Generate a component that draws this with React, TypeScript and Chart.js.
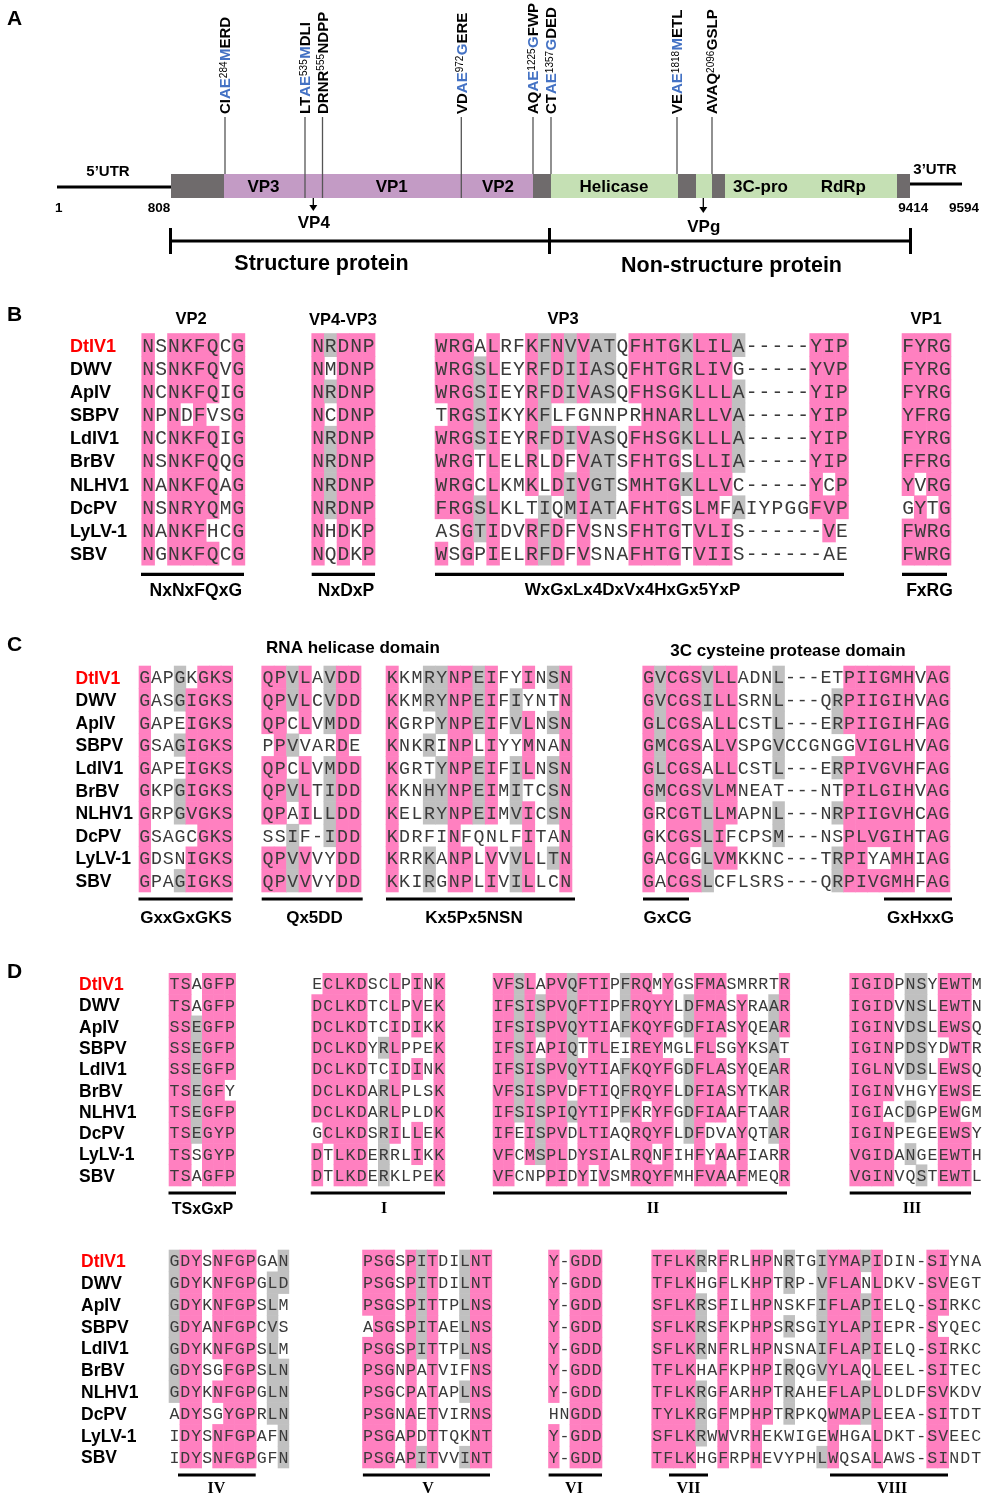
import { useEffect, useRef } from "react";
import { Chart, registerables } from "chart.js";
Chart.register(...registerables);

const CANVAS_W = 982;
const CANVAS_H = 1495;

// ================= DATA =================
const species = ["DtIV1", "DWV", "ApIV", "SBPV", "LdIV1", "BrBV", "NLHV1", "DcPV", "LyLV-1", "SBV"];

// ---- Panel A: genome organisation ----
const utrLabels = ["5\u2019UTR", "3\u2019UTR"];
const genomeNumbers = ["1", "808", "9414", "9594"];
const segmentKinds = ["nc", "sp", "nc", "ns", "nc", "ns", "nc", "ns", "nc"]; // nc = dark box, sp = structural, ns = non-structural
const proteinNames = ["VP3", "VP1", "VP2", "Helicase", "3C-pro", "RdRp"];
// [black prefix, blue, superscript position, blue, black suffix]
const cleavageSites = [
  ["CI", "AE", "284", "M", "ERD"],
  ["LT", "AE", "535", "M", "DLI"],
  ["DRNR", "", "555", "", "NDPP"],
  ["VD", "AE", "972", "G", "ERE"],
  ["AQ", "AE", "1225", "G", "FWP"],
  ["CT", "AE", "1357", "G", "DED"],
  ["VE", "AE", "1818", "M", "ETL"],
  ["AVAQ", "", "2096", "", "GSLP"],
];
const cleavedProducts = ["VP4", "VPg"];
const regionNames = ["Structure protein", "Non-structure protein"];

// ---- Panel B: structural proteins ----
const panelBHeaders = ["VP2", "VP4-VP3", "VP3", "VP1"];
const panelBMotifs = ["NxNxFQxG", "NxDxP", "WxGxLx4DxVx4HxGx5YxP", "FxRG"];
const vp2Seqs = ["NSNKFQCG", "NSNKFQVG", "NCNKFQIG", "NPNDFVSG", "NCNKFQIG", "NSNKFQQG", "NANKFQAG", "NSNRYQMG", "NANKFHCG", "NGNKFQCG"];
const vp2Shade = ["pwppppwp", "pwppppwp", "pwppppwp", "pwpwpwwp", "pwppppwp", "pwppppwp", "pwppppwp", "pwppppwp", "pwpppwwp", "pwppppwp"];
const vp4Seqs = ["NRDNP", "NMDNP", "NRDNP", "NCDNP", "NRDNP", "NRDNP", "NRDNP", "NRDNP", "NHDKP", "NQDKP"];
const vp4Shade = ["pgppp", "pwppp", "pgppp", "pwppp", "pgppp", "pgppp", "pgppp", "pgppp", "pwpwp", "pwpwp"];
const vp3Seqs = [
  "WRGALRFKFNVVATQFHTGKLILA-----YIP",
  "WRGSLEYRFDIIASQFHTGRLIVG-----YVP",
  "WRGSIEYRFDIVASQFHSGKLLLA-----YIP",
  "TRGSIKYKFLFGNNPRHNARLLVA-----YIP",
  "WRGSIEYRFDIVASQFHSGKLLLA-----YIP",
  "WRGTLELRLDFVATSFHTGSLLIA-----YIP",
  "WRGCLKMKLDIVGTSMHTGKLLVC-----YCP",
  "FRGSLKLTIQMIATAFHTGSLMFAIYPGGFVP",
  "ASGTIDVRFDFVSNSFHTGTVLIS------VE",
  "WSGPIELRFDFVSNAFHTGTVIIS------AE",
];
const vp3Shade = [
  "pppwpwwpgpgpggwppppgpppgwwwwwppp",
  "pppgpwwpgpgpggwppppgpppwwwwwwppp",
  "pppgpwwpgpgpggwppppgpppgwwwwwppp",
  "wppgpwwpgwwwwwwwpppgpppgwwwwwppp",
  "pppgpwwpgpgpggwppppgpppgwwwwwppp",
  "pppwpwwpwpwpggwppppwpppgwwwwwppp",
  "pppwpwwpwpgpggwppppgpppwwwwwwpwp",
  "pppgpwwwgwgpggwppppwppwgwwwwwppp",
  "wwpgpwwpgpwpwwwppppwpppwwwwwwwpw",
  "pwpwpwwpgpwpwwwppppwpppwwwwwwwww",
];
const vp1Seqs = ["FYRG", "FYRG", "FYRG", "YFRG", "FYRG", "FFRG", "YVRG", "GYTG", "FWRG", "FWRG"];
const vp1Shade = ["pppp", "pppp", "pppp", "pppp", "pppp", "pppp", "pwpp", "wpwp", "pppp", "pppp"];

// ---- Panel C: helicase and 3C protease ----
const panelCHeaders = ["RNA helicase domain", "3C cysteine protease domain"];
const panelCMotifs = ["GxxGxGKS", "Qx5DD", "Kx5Px5NSN", "GxCG", "GxHxxG"];
const helASeqs = ["GAPGKGKS", "GASGIGKS", "GAPEIGKS", "GSAGIGKS", "GAPEIGKS", "GKPGIGKS", "GRPGVGKS", "GSAGCGKS", "GDSNIGKS", "GPAGIGKS"];
const helAShade = ["pwwgwppp", "pwwgpppp", "pwwwpppp", "pwwgpppp", "pwwwpppp", "pwwgpppp", "pwwgpppp", "pwwwwppp", "pwwwpppp", "pwwgpppp"];
const helBSeqs = ["QPVLAVDD", "QPVLCVDD", "QPCLVMDD", "PPVVARDE", "QPCLVMDD", "QPVLTIDD", "QPAILLDD", "SSIF-IDD", "QPVVVYDD", "QPVVVYDD"];
const helBShade = ["ppgpwgpp", "ppgpwgpp", "ppwpwgpp", "wpgwwwpw", "ppwpwgpp", "ppgpwgpp", "ppwpwgpp", "wwgwwgpp", "ppgpwwpp", "ppgpwwpp"];
const helCSeqs = [
  "KKMRYNPEIFYINSN", "KKMRYNPEIFIYNTN", "KGRPYNPEIFVLNSN", "KNKRINPLIYYMNAN", "KGRTYNPEIFILNSN",
  "KKNHYNPEIMITCSN", "KELRYNPEIMVICSN", "KDRFINFQNLFITAN", "KRRKANPLVVVLLTN", "KKIRGNPLIVILLCN",
];
const helCShade = [
  "pwwggppgpwwpwgp", "pwwggppgpwgwwwp", "pwwwgppgpwgpwgp", "pwwgwppwpwwpwwp", "pwwwgppgpwgpwgp",
  "pwwggppgpwgwwgp", "pwwggppgpwgpwgp", "pwwwwpwwwwwpwwp", "pwwgwppwpwgpwgp", "pwwgwppwpwgpwwp",
];
const proSeqs = [
  "GVCGSVLLADNL---ETPIIGMHVAG", "GVCGSILLSRNL---QRPIIGIHVAG", "GLCGSALLCSTL---ERPIIGIHFAG",
  "GMCGSALVSPGVCCGNGGVIGLHVAG", "GLCGSALLCSTL---ERPIVGVHFAG", "GMCGSVLMNEAT---NTPILGIHVAG",
  "GRCGTLLMAPNL---NRPIIGVHCAG", "GKCGSLIFCPSM---NSPLVGIHTAG", "GACGGLVMKKNC---TRPIYAMHIAG",
  "GACGSLCFLSRS---QRPIVGMHFAG",
];
const proShade = [
  "pgpppgppwwwgwwwwwppppppwpp", "pgpppgppwwwgwwwwgppppppwpp", "pgpppwppwwwgwwwwgppppppwpp",
  "pgpppwppwwwgwwwwwwpppppwpp", "pgpppwppwwwgwwwwgppppppwpp", "pgpppgppwwwwwwwwwppppppwpp",
  "pwpppgppwwwgwwwwgppppppwpp", "pwpppgpwwwwgwwwwwppppppwpp", "pwppwgppwwwwwwwwgppwwppwpp",
  "pwpppgwwwwwwwwwwgppppppwpp",
];

// ---- Panel D: RdRp motifs ----
const panelDMotifs = ["TSxGxP", "I", "II", "III", "IV", "V", "VI", "VII", "VIII"];
const tsSeqs = ["TSAGFP", "TSAGFP", "SSEGFP", "SSEGFP", "SSEGFP", "TSEGFY", "TSEGFP", "TSEGYP", "TSSGYP", "TSAGFP"];
const tsShade = ["ppwppp", "ppwppp", "ppgppp", "ppgppp", "ppgppp", "ppgppw", "ppgppp", "ppgppp", "ppwppp", "ppwppp"];
const m1Seqs = ["ECLKDSCLPINK", "DCLKDTCLPVEK", "DCLKDTCIDIKK", "DCLKDYRLPPEK", "DCLKDTCIDINK", "DCLKDARLPLSK", "DCLKDARLPLDK", "GCLKDSRILLEK", "DTLKDERRLIKK", "DTLKDERKLPEK"];
const m1Shade = ["wppppwwpwpwp", "pppppwwpwpwp", "pppppwwpwpwp", "pppppwgpwwwp", "pppppwwpwpwp", "pppppwgpwwwp", "pppppwgpwwwp", "wppppwgpwpwp", "pwpppwgwwpwp", "pwpppwgwwwwp"];
const m2Seqs = [
  "VFSLAPVQFTIPFRQMYGSFMASMRRTR", "IFSISPVQFTIPFRQYYLDFMASYRAAR", "IFSISPVQYTIAFKQYFGDFIASYQEAR",
  "IFSIAPIQTTLEIREYMGLFLSGYKSAT", "IFSISPVQYTIAFKQYFGDFLASYQEAR", "VFSISPVDFTIQFRQYFLDFIASYTKAR",
  "IFSISPIQYTIPFKRYFGDFIAAFTAAR", "IFEISPVDLTIAQRQYFLDFDVAYQTAR", "VFCMSPLDYSIALRQNFIHFYAAFIARR",
  "VFCNPPIDYIVSMRQYFMHFVAAFMEQR",
];
const m2Shade = [
  "ppgpwppgpppwgppwpwwpppwwwwwp", "ppgpgppgpppwgppppwgpppwpwwgp", "ppgpgppgpppwgppppwgpppwpwwgp",
  "ppgpwppgwppwwpppwwwppwwpwwgw", "ppgpgppgpppwgppppwgpppwpwwgp", "ppgpgppwpppwgppppwgpppwpwwgp",
  "ppgpgppgpppwgpwppwgpppwpwwgp", "ppwpgppwpppwwppppwgpwwwpwwgp", "ppwpgppwpppwwppwpwwpwpwpwwwp",
  "ppwwwppwpwpwwppppwwpppwpwwwp",
];
const m3Seqs = ["IGIDPNSYEWTM", "IGIDVNSLEWTN", "IGINVDSLEWSQ", "IGINPDSYDWTR", "IGLNVDSLEWSQ", "IGINVHGYEWSE", "IGIACDGPEWGM", "IGINPEGEEWSY", "VGIDANGEEWTH", "VGINVQSTEWTL"];
const m3Shade = ["ppppwggwpppw", "ppppwggwpppw", "ppppwggwpppw", "ppppwggwwppw", "ppppwggwpppw", "ppppwwwwpppw", "pppwwgwwppww", "ppppwwwwpppw", "ppppwgwwpppw", "ppppwwgwpppw"];
const m4Seqs = ["GDYSNFGPGAN", "GDYKNFGPGLD", "GDYKNFGPSLM", "GDYANFGPCVS", "GDYKNFGPSLM", "GDYSGFGPSLN", "GDYKNFGPGLN", "ADYSGYGPRLN", "IDYSNFGPAFN", "IDYSNFGPGFN"];
const m4Shade = ["gppwppppwwg", "gppwppppwgg", "gppwppppwgw", "gppwppppwgw", "gppwppppwgw", "gppwwpppwgg", "gppwppppwgg", "wppwwpppwgg", "wppwppppwwg", "wppwppppwwg"];
const m5Seqs = ["PSGSPITDILNT", "PSGSPITDILNT", "PSGSPITTPLNS", "ASGSPITAELNS", "PSGSPITTPLNS", "PSGNPATVIFNS", "PSGCPATAPLNS", "PSGNAETVIRNS", "PSGAPDTTQKNT", "PSGAPITVVINT"];
const m5Shade = ["pppwpgpwwgpp", "pppwpgpwwgpp", "pppwpgpwwgpp", "wppwpgpwwgpp", "pppwpgpwwgpp", "pppwpwpwwwpp", "pppwpwpwwgpp", "pppwpwpwwwpp", "pppwpwpwwwpp", "pppwpgpwwgpp"];
const m6Seqs = ["Y-GDD", "Y-GDD", "Y-GDD", "Y-GDD", "Y-GDD", "Y-GDD", "Y-GDD", "HNGDD", "Y-GDD", "Y-GDD"];
const m6Shade = ["pwppp", "pwppp", "pwppp", "pwppp", "pwppp", "pwppp", "pwppp", "wwppp", "pwppp", "pwppp"];
const m78Seqs = [
  "TFLKRRFRLHPNRTGIYMAPIDIN-SIYNA", "TFLKHGFLKHPTRP-VFLANLDKV-SVEGT", "SFLKRSFILHPNSKFIFLAPIELQ-SIRKC",
  "SFLKRSFKPHPSRSGIYLAPIEPR-SYQEC", "SFLKRNFRLHPNSNAIFLAPIELQ-SIRKC", "TFLKHAFKPHPIRQGVYLAQLEEL-SITEC",
  "TFLKRGFARHPTRAHEFLAPLDLDFSVKDV", "TYLKRGFMPHPTRPKQWMAPLEEA-SITDT", "SFLKRWWVRHEKWIGEWHGALDKT-SVEEC",
  "TFLKHGFRPHEVYPHLWQSALAWS-SINDT",
];
const m78Shade = [
  "ppppgwpwwppwgwwgpppgpwwwwppwww", "ppppwwpwwppwgwwgpppwpwwwwppwww", "ppppgwpwwppwwwwgpppgpwwwwppwww",
  "ppppgwpwwppwgwwgpppgpwwwwpwwww", "ppppgwpwwppwwwwgpppgpwwwwppwww", "ppppwwpwwppwgwwgpppwpwwwwppwww",
  "ppppgwpwwppwgwwwpppgpwwwwppwww", "ppppgwpwwppwgwwwpppgpwwwwppwww", "ppppgwpwwpwwwwwwpwwwpwwwwppwww",
  "ppppwwpwwpwwwwwgpwwwpwwwwppwww",
];

// ================= STYLE / LAYOUT =================
const SANS = "'Liberation Sans', Arial, sans-serif";
const MONO = "'Liberation Mono', 'Courier New', monospace";
const SERIF = "'Liberation Serif', 'Times New Roman', serif";
const SHADE: Record<string, string> = { p: "#ff80c0", g: "#c0c0c0" };
const SEG_COLORS: Record<string, string> = { nc: "#6f6b6c", sp: "#c39bc5", ns: "#c5e0b4" };
const BLUE = "#4472c4";
const RES_COLOR = "#3a3a3a";

const genomeLayout = {
  barTop: 174, barBottom: 198,
  bounds: [171, 224, 533, 551, 678, 696, 712, 725, 897, 910],
  proteinX: [263.5, 391.7, 498, 614, 760.5, 843.3],
  utr5: { x1: 57, x2: 171, y: 187, lx: 108, ly: 171 },
  utr3: { x1: 910, x2: 962, y: 184, lx: 935, ly: 169 },
  numX: [58.7, 159, 913.3, 964], numY: 207,
  siteX: [225, 305, 322.5, 461.3, 533, 551, 677, 712],
  siteLineBottom: [174, 198, 198, 198, 174, 174, 174, 174],
  siteLineTop: 117, siteTextBottom: 114,
  productX: [313.3, 703.3], productArrowEnd: [211, 213], productLabelY: [222, 226],
  bracketY: 241, bracketTicks: [170.5, 549.5, 910.5], bracketTickTop: 228, bracketTickBottom: 254,
  regionLabelX: [321.5, 731.5], regionLabelY: [262, 264],
};

type BlockPos = { seqs: string[]; shade: string[]; x: number; cw: number };
type Panel = { top: number; rowH: number; nameX: number; nameSize: number; mono: number; blocks: BlockPos[] };

const panelB: Panel = {
  top: 333.5, rowH: 23.17, nameX: 70, nameSize: 18, mono: 19.6,
  blocks: [
    { seqs: vp2Seqs, shade: vp2Shade, x: 141.7, cw: 12.9 },
    { seqs: vp4Seqs, shade: vp4Shade, x: 311.7, cw: 12.67 },
    { seqs: vp3Seqs, shade: vp3Shade, x: 435, cw: 12.92 },
    { seqs: vp1Seqs, shade: vp1Shade, x: 902, cw: 12.25 },
  ],
};
const panelC: Panel = {
  top: 666, rowH: 22.6, nameX: 75.5, nameSize: 17.5, mono: 18.3,
  blocks: [
    { seqs: helASeqs, shade: helAShade, x: 139, cw: 11.72 },
    { seqs: helBSeqs, shade: helBShade, x: 261.7, cw: 12.42 },
    { seqs: helCSeqs, shade: helCShade, x: 386, cw: 12.4 },
    { seqs: proSeqs, shade: proShade, x: 642.7, cw: 11.82 },
  ],
};
const panelD1: Panel = {
  top: 973.3, rowH: 21.27, nameX: 79, nameSize: 17.5, mono: 16.6,
  blocks: [
    { seqs: tsSeqs, shade: tsShade, x: 169, cw: 11.1 },
    { seqs: m1Seqs, shade: m1Shade, x: 311.7, cw: 11.1 },
    { seqs: m2Seqs, shade: m2Shade, x: 493, cw: 10.6 },
    { seqs: m3Seqs, shade: m3Shade, x: 849.7, cw: 11.05 },
  ],
};
const panelD2: Panel = {
  top: 1250, rowH: 21.8, nameX: 81, nameSize: 17.5, mono: 16.6,
  blocks: [
    { seqs: m4Seqs, shade: m4Shade, x: 169, cw: 10.9 },
    { seqs: m5Seqs, shade: m5Shade, x: 362.5, cw: 10.78 },
    { seqs: m6Seqs, shade: m6Shade, x: 548.5, cw: 10.7 },
    { seqs: m78Seqs, shade: m78Shade, x: 651.7, cw: 11.0 },
  ],
};

const panelLetters = [
  { t: "A", y: 17 }, { t: "B", y: 313 }, { t: "C", y: 643 }, { t: "D", y: 970 },
];

// underline bars: [x1, x2, y, label, labelX, labelY, font]
const motifBars: [number, number, number, string, number, number, string][] = [
  [141, 244, 574.3, panelBMotifs[0], 195.8, 590, `bold 17.5px ${SANS}`],
  [311.7, 375, 574.3, panelBMotifs[1], 346, 590, `bold 17.5px ${SANS}`],
  [435, 844, 574.3, panelBMotifs[2], 632.5, 589, `bold 17px ${SANS}`],
  [902, 947, 574.3, panelBMotifs[3], 929.5, 590, `bold 17.5px ${SANS}`],
  [138.5, 232.7, 899, panelCMotifs[0], 186, 917, `bold 17px ${SANS}`],
  [261.7, 362.7, 899, panelCMotifs[1], 314.5, 917, `bold 17px ${SANS}`],
  [386, 575, 899, panelCMotifs[2], 474, 917, `bold 17px ${SANS}`],
  [643, 689, 899, panelCMotifs[3], 667.7, 917, `bold 17px ${SANS}`],
  [884, 952, 899, panelCMotifs[4], 920.5, 917, `bold 17px ${SANS}`],
  [168.5, 236, 1193, panelDMotifs[0], 202.5, 1208, `bold 16px ${SANS}`],
  [310.7, 445, 1193, panelDMotifs[1], 384, 1208, `bold 16px ${SERIF}`],
  [493, 787, 1193, panelDMotifs[2], 653, 1208, `bold 16px ${SERIF}`],
  [849.7, 971, 1193, panelDMotifs[3], 912, 1208, `bold 16px ${SERIF}`],
  [178, 255.7, 1475, panelDMotifs[4], 216.5, 1488, `bold 16px ${SERIF}`],
  [362.9, 490, 1475, panelDMotifs[5], 428, 1488, `bold 16px ${SERIF}`],
  [548.6, 602, 1475, panelDMotifs[6], 574, 1488, `bold 16px ${SERIF}`],
  [669, 708, 1475, panelDMotifs[7], 688.5, 1488, `bold 16px ${SERIF}`],
  [830, 948, 1475, panelDMotifs[8], 892, 1488, `bold 16px ${SERIF}`],
];

const headers: [string, number, number, number][] = [
  [panelBHeaders[0], 191, 318, 16.5],
  [panelBHeaders[1], 343, 319, 16.5],
  [panelBHeaders[2], 563, 318, 16.5],
  [panelBHeaders[3], 926, 318, 16.5],
  [panelCHeaders[0], 353, 647, 17],
  [panelCHeaders[1], 788, 650, 17],
];

// ================= DRAWING =================
const figurePlugin = {
  id: "figure",
  afterDraw(chart: any) {
    const ctx: CanvasRenderingContext2D = chart.ctx;
    const sx = chart.scales.x;
    const sy = chart.scales.y;
    const X = (v: number) => sx.getPixelForValue(v);
    const Y = (v: number) => sy.getPixelForValue(v);

    const text = (t: string, x: number, yCenter: number, font: string, color = "#000", align: CanvasTextAlign = "center", capRatio = 0.716, size = 16) => {
      ctx.font = font;
      ctx.fillStyle = color;
      ctx.textAlign = align;
      ctx.textBaseline = "alphabetic";
      ctx.fillText(t, X(x), Y(yCenter) + (capRatio * size) / 2);
    };
    const rect = (x1: number, y1: number, x2: number, y2: number, color: string) => {
      ctx.fillStyle = color;
      const a = X(x1), b = X(x2), c = Y(y1), d = Y(y2);
      ctx.fillRect(Math.min(a, b), Math.min(c, d), Math.abs(b - a), Math.abs(d - c));
    };
    const line = (x1: number, y1: number, x2: number, y2: number, w: number, color: string) => {
      ctx.strokeStyle = color;
      ctx.lineWidth = w;
      ctx.beginPath();
      ctx.moveTo(X(x1), Y(y1));
      ctx.lineTo(X(x2), Y(y2));
      ctx.stroke();
    };

    ctx.save();
    // white background
    rect(0, 0, CANVAS_W, CANVAS_H, "#ffffff");

    // panel letters
    panelLetters.forEach((p) => text(p.t, 7, p.y, `bold 21px ${SANS}`, "#000", "left", 0.716, 21));

    // ---------- Panel A ----------
    const g = genomeLayout;
    line(g.utr5.x1, g.utr5.y, g.utr5.x2, g.utr5.y, 3, "#000");
    line(g.utr3.x1, g.utr3.y, g.utr3.x2, g.utr3.y, 3, "#000");
    text(utrLabels[0], g.utr5.lx, g.utr5.ly, `bold 15px ${SANS}`, "#000", "center", 0.716, 15);
    text(utrLabels[1], g.utr3.lx, g.utr3.ly, `bold 15px ${SANS}`, "#000", "center", 0.716, 15);
    segmentKinds.forEach((k, i) => {
      rect(g.bounds[i], g.barTop, g.bounds[i + 1] + (i < segmentKinds.length - 1 ? 0.5 : 0), g.barBottom, SEG_COLORS[k]);
    });
    genomeNumbers.forEach((n, i) => text(n, g.numX[i], g.numY, `bold 13.5px ${SANS}`, "#000", "center", 0.716, 13.5));
    const barMid = (g.barTop + g.barBottom) / 2;
    proteinNames.forEach((n, i) => text(n, g.proteinX[i], barMid, `bold 17px ${SANS}`, "#000", "center", 0.716, 17));

    // cleavage site lines and rotated labels
    cleavageSites.forEach((site, i) => {
      const x = g.siteX[i];
      line(x, g.siteLineTop, x, g.siteLineBottom[i], 1.3, "#555");
      ctx.save();
      const big = 15, small = 10;
      const cap = big * 0.716;
      ctx.translate(X(x) + cap / 2, Y(g.siteTextBottom));
      ctx.rotate(-Math.PI / 2);
      ctx.textAlign = "left";
      ctx.textBaseline = "alphabetic";
      let u = 0;
      const parts: [string, string, boolean][] = [
        [site[0], "#000", false],
        [site[1], BLUE, false],
        [site[2], "#000", true],
        [site[3], BLUE, false],
        [site[4], "#000", false],
      ];
      parts.forEach(([t, col, sup]) => {
        if (!t) return;
        ctx.font = sup ? `${small}px ${SANS}` : `bold ${big}px ${SANS}`;
        ctx.fillStyle = col;
        ctx.fillText(t, u, sup ? -(cap - small * 0.716) : 0);
        u += ctx.measureText(t).width + (sup ? 0.5 : 0);
      });
      ctx.restore();
    });

    // cleaved products arrows
    cleavedProducts.forEach((p, i) => {
      const x = g.productX[i];
      const yEnd = g.productArrowEnd[i];
      line(x, g.barBottom, x, yEnd - 5, 1.3, "#000");
      ctx.fillStyle = "#000";
      ctx.beginPath();
      ctx.moveTo(X(x - 4), Y(yEnd - 6));
      ctx.lineTo(X(x + 4), Y(yEnd - 6));
      ctx.lineTo(X(x), Y(yEnd));
      ctx.closePath();
      ctx.fill();
      text(p, x + 0.5, g.productLabelY[i], `bold 17px ${SANS}`, "#000", "center", 0.716, 17);
    });

    // bracket
    line(g.bracketTicks[0], g.bracketY, g.bracketTicks[2], g.bracketY, 3, "#000");
    g.bracketTicks.forEach((x) => line(x, g.bracketTickTop, x, g.bracketTickBottom, 3, "#000"));
    regionNames.forEach((r, i) => text(r, g.regionLabelX[i], g.regionLabelY[i], `bold 21.5px ${SANS}`, "#000", "center", 0.716, 21.5));

    // ---------- Alignment panels ----------
    const drawPanel = (p: Panel) => {
      species.forEach((s, r) => {
        const yc = p.top + (r + 0.5) * p.rowH;
        text(s, p.nameX, yc, `bold ${p.nameSize}px ${SANS}`, r === 0 ? "#ff0000" : "#000", "left", 0.716, p.nameSize);
      });
      p.blocks.forEach((b) => {
        // shading
        b.shade.forEach((row, r) => {
          for (let c = 0; c < row.length; c++) {
            const col = SHADE[row[c]];
            if (!col) continue;
            rect(b.x + c * b.cw - 0.3, p.top + r * p.rowH - 0.3, b.x + (c + 1) * b.cw + 0.3, p.top + (r + 1) * p.rowH + 0.3, col);
          }
        });
        // residues
        b.seqs.forEach((seq, r) => {
          const yc = p.top + (r + 0.5) * p.rowH;
          for (let c = 0; c < seq.length; c++) {
            text(seq[c], b.x + (c + 0.5) * b.cw, yc, `${p.mono}px ${MONO}`, RES_COLOR, "center", 0.66, p.mono);
          }
        });
      });
    };
    [panelB, panelC, panelD1, panelD2].forEach(drawPanel);

    // headers
    headers.forEach(([t, x, y, s]) => text(t, x, y, `bold ${s}px ${SANS}`, "#000", "center", 0.716, s));

    // motif underlines and labels
    motifBars.forEach(([x1, x2, y, label, lx, ly, font]) => {
      line(x1, y, x2, y, 3.2, "#000");
      const size = parseFloat(font.split(" ")[1]);
      text(label, lx, ly, font, "#000", "center", font.includes("Serif") ? 0.66 : 0.716, size);
    });

    ctx.restore();
  },
};

export default function App() {
  const ref = useRef<HTMLCanvasElement>(null);
  useEffect(() => {
    const canvas = ref.current;
    if (!canvas) return;
    const chart = new Chart(canvas, {
      type: "scatter",
      data: { datasets: [{ data: [] }] },
      options: {
        responsive: false,
        animation: false,
        devicePixelRatio: 1,
        layout: { padding: 0 },
        plugins: { legend: { display: false }, tooltip: { enabled: false } },
        scales: {
          x: { type: "linear", min: 0, max: CANVAS_W, display: false },
          y: { type: "linear", min: 0, max: CANVAS_H, reverse: true, display: false },
        },
      },
      plugins: [figurePlugin],
    });
    return () => chart.destroy();
  }, []);
  return (
    <div style={{ position: "absolute", left: 0, top: 0, width: CANVAS_W, height: CANVAS_H, background: "#fff" }}>
      <canvas ref={ref} width={CANVAS_W} height={CANVAS_H} style={{ display: "block", width: CANVAS_W, height: CANVAS_H }} />
    </div>
  );
}
